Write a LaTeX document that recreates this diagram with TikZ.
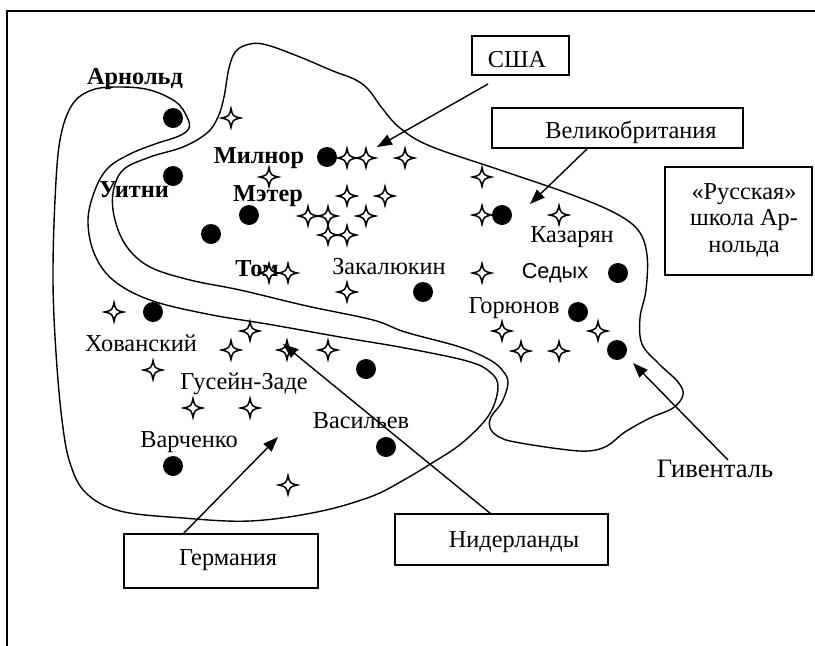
\documentclass[tikz,border=0pt]{standalone}
\usepackage{fontspec}
\setmainfont{Liberation Serif}
\newfontfamily\sansfam{Liberation Sans}
\usetikzlibrary{arrows.meta}
\begin{document}
\begin{tikzpicture}[x=1pt,y=-1pt,
  lbl/.style={anchor=base, inner sep=0pt, font=\fontsize{24.3}{26.5}\selectfont},
  blbl/.style={anchor=base, inner sep=0pt, font=\fontsize{24.3}{26.5}\selectfont\bfseries},
  slbl/.style={anchor=base, inner sep=0pt, font=\fontsize{21.7}{26}\selectfont\sansfam},
  boxed/.style={draw, line width=1.5pt, inner sep=0pt},
  curve/.style={line width=1.4pt},
  arr/.style={line width=1.4pt, -{Triangle[length=15pt,width=11pt]}},
  star4/.pic={\draw[line width=1.5pt, fill=white] (0,9.5) .. controls (1.8,1.8) .. (9.5,0) .. controls (1.8,-1.8) .. (0,-9.5) .. controls (-1.8,-1.8) .. (-9.5,0) .. controls (-1.8,1.8) .. cycle;}
]
\useasboundingbox (0,0) rectangle (815,646);
\fill[white] (0,0) rectangle (815,646);
% frame
\draw[line width=1.6pt] (7,646) -- (7,11) -- (815,11);

% curve A (left group)
\draw[curve] plot[smooth cycle, tension=0.6] coordinates {
 (120,87) (150,90) (176,102) (187,117) (189,128) (179,136) (155,144) (130,154)
 (108,168) (95,190) (88,220) (94,253) (113,280) (150,300) (207,314) (273,325)
 (340,337) (405,348) (467,361) (490,372) (498,387) (489,415) (462,443) (432,463)
 (402,481) (370,497) (317,512) (250,521) (183,518) (120,511) (86,493) (70,463)
 (62,420) (56,353) (53,280) (55,200) (60,140) (72,105) (92,90)};

% curve B (big group)
\draw[curve] plot[smooth cycle, tension=0.6] coordinates {
 (250,44) (267,45) (300,57) (333,71) (354,79) (368,89) (382,108) (400,128)
 (430,146) (500,170) (567,193) (613,212) (638,230) (647,255) (646,290) (640,318)
 (642,344) (658,363) (678,382) (683,395) (673,408) (650,418) (625,432) (607,446)
 (588,451) (560,449) (515,442) (499,437) (490,428) (491,417) (502,402) (508,383)
 (503,371) (490,360) (460,347) (405,332) (373,320) (307,306) (240,290) (190,280)
 (150,267) (127,247) (115,220) (113,193) (123,170) (150,157) (183,147) (207,133)
 (218,117) (224,97) (229,68) (236,51)};

% labels
\node[blbl] (arnold) at (135,84) {Арнольд};
\node[blbl] (milnor) at (259,163) {Милнор};
\node[blbl] (uitni) at (134,197) {Уитни};
\node[blbl] (meter) at (268,201) {Мэтер};
\node[blbl] (tom) at (257,276) {Том};
\node[lbl] (zakal) at (389,274) {Закалюкин};
\node[lbl] (kazar) at (572,242) {Казарян};
\node[slbl] (sedyh) at (555,278) {Седых};
\node[lbl] (gorun) at (514,313) {Горюнов};
\node[lbl] (hovan) at (141,351) {Хованский};
\node[lbl] (gusein) at (244,389) {Гусейн-Заде};
\node[lbl] (vasil) at (361,428) {Васильев};
\node[lbl] (varch) at (189,447) {Варченко};
\node[anchor=base, inner sep=0pt, font=\fontsize{26.6}{30}\selectfont] (givent) at (715,477) {Гивенталь};

% boxes
\node[boxed, minimum width=97pt, minimum height=39pt] (usa) at (520.5,55.5) {};
\node[lbl] (usaT) at (517,67) {США};
\node[boxed, minimum width=251pt, minimum height=40pt] (gb) at (617.5,128) {};
\node[lbl] (gbT) at (631,138) {Великобритания};
\node[boxed, minimum width=147pt, minimum height=108pt] (rus) at (738.5,221) {};
\node[anchor=base, inner sep=0pt, align=center, font=\fontsize{24.3}{26.5}\selectfont] (rusT) at (744,252) {«Русская»\\школа Ар-\\нольда};
\node[boxed, minimum width=194pt, minimum height=54pt] (ger) at (221,561) {};
\node[lbl] (gerT) at (228,565) {Германия};
\node[boxed, minimum width=213pt, minimum height=51pt] (ned) at (501.5,539.5) {};
\node[lbl] (nedT) at (514,547) {Нидерланды};

% dots
\foreach \p in {(173,118),(173,176),(249,215),(211,234),(327,157),(153,312),
  (502,215),(618,273),(578,312),(617,350),(423,292),(366,369),(386,447),(173,466)}
  \fill \p circle (10);

% stars
\foreach \p in {(231,118),(347,158),(366,158),(405,158),(269,177),(347,196),(385,196),
  (308,216),(328,216),(366,216),(328,235),(347,235),(269,273),(288,273),(347,292),
  (114,312),(250,331),(231,350),(287,350),(328,350),(153,370),(193,408),(250,408),
  (288,485),(482,177),(482,215),(559,215),(482,273),(502,331),(521,351),(559,351),(598,331)}
  \pic at \p {star4};

% arrows
\coordinate (usaA) at (488,84);   \coordinate (usaB) at (377,147);
\coordinate (gbA) at (588,148);   \coordinate (gbB) at (530,204);
\coordinate (gerA) at (183,534);  \coordinate (gerB) at (278,437);
\coordinate (nedA) at (491,514);  \coordinate (nedB) at (283,344);
\coordinate (givA) at (728,460);  \coordinate (givB) at (633,363);
\draw[arr] (usaA) -- (usaB);
\draw[arr] (gbA) -- (gbB);
\draw[arr] (gerA) -- (gerB);
\draw[arr] (nedA) -- (nedB);
\draw[arr] (givA) -- (givB);
\end{tikzpicture}
\end{document}
